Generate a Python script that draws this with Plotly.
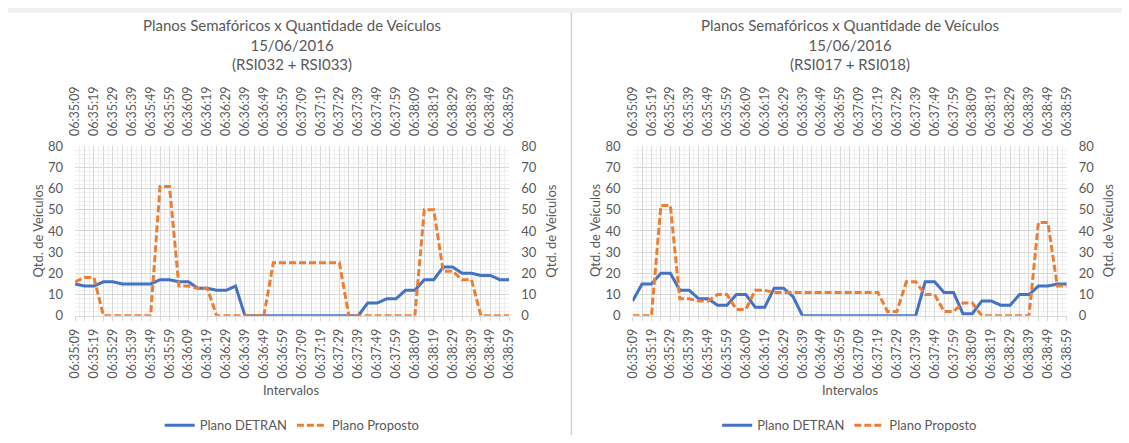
import plotly.graph_objects as go

# Time stamps (5 s intervals)
categories = [
    "06:35:09", "06:35:14", "06:35:19", "06:35:24", "06:35:29", "06:35:34",
    "06:35:39", "06:35:44", "06:35:49", "06:35:54", "06:35:59", "06:36:04",
    "06:36:09", "06:36:14", "06:36:19", "06:36:24", "06:36:29", "06:36:34",
    "06:36:39", "06:36:44", "06:36:49", "06:36:54", "06:36:59", "06:37:04",
    "06:37:09", "06:37:14", "06:37:19", "06:37:24", "06:37:29", "06:37:34",
    "06:37:39", "06:37:44", "06:37:49", "06:37:54", "06:37:59", "06:38:04",
    "06:38:09", "06:38:14", "06:38:19", "06:38:24", "06:38:29", "06:38:34",
    "06:38:39", "06:38:44", "06:38:49", "06:38:54", "06:38:59",
]

# RSI032 + RSI033
left_detran = [15, 14, 14, 16, 16, 15, 15, 15, 15, 17, 17, 16, 16, 13, 13, 12,
               12, 14, 0, 0, 0, 0, 0, 0, 0, 0, 0, 0, 0, 0, 0, 6,
               6, 8, 8, 12, 12, 17, 17, 23, 23, 20, 20, 19, 19, 17, 17]
left_proposto = [16, 18, 18, 0, 0, 0, 0, 0, 0, 61, 61, 14, 14, 13, 13, 0,
                 0, 0, 0, 0, 0, 25, 25, 25, 25, 25, 25, 25, 25, 0, 0, 0,
                 0, 0, 0, 0, 0, 50, 50, 21, 21, 17, 17, 0, 0, 0, 0]

# RSI017 + RSI018
right_detran = [7, 15, 15, 20, 20, 12, 12, 8, 8, 5, 5, 10, 10, 4, 4, 13,
                13, 9, 0, 0, 0, 0, 0, 0, 0, 0, 0, 0, 0, 0, 0, 16,
                16, 11, 11, 1, 1, 7, 7, 5, 5, 10, 10, 14, 14, 15, 15]
right_proposto = [0, 0, 0, 52, 52, 8, 8, 7, 7, 10, 10, 3, 3, 12, 12, 11,
                  11, 11, 11, 11, 11, 11, 11, 11, 11, 11, 11, 2, 2, 16, 16, 10,
                  10, 2, 2, 6, 6, 0, 0, 0, 0, 0, 0, 44, 44, 14, 14]

titles = [
    "Planos Semafóricos x Quantidade de Veículos<br>15/06/2016<br>(RSI032 + RSI033)",
    "Planos Semafóricos x Quantidade de Veículos<br>15/06/2016<br>(RSI017 + RSI018)",
]
y_title = "Qtd. de Veículos"
x_title = "Intervalos"
series_names = ["Plano DETRAN", "Plano Proposto"]

W, H = 1129, 443
FONT = "Lato, 'Open Sans', sans-serif"
TXT = "#595959"
BLUE = "#4472C4"
ORANGE = "#ED7D31"
GRID = "#d9d9d9"
MINOR = "#efefef"

idx = list(range(len(categories)))
tick_text = [c if i % 2 == 0 else "" for i, c in enumerate(categories)]


def px(x):
    return x / W


def py(y):
    return 1 - y / H


plot_top, plot_bottom = 143.3, 319.3
panels = [
    dict(x0=68, x1=508, det=left_detran, prop=left_proposto, title=titles[0],
         xb="x", xt="x3", yl="y", yr="y2", legend="legend", xt_pos=287),
    dict(x0=633, x1=1073, det=right_detran, prop=right_proposto, title=titles[1],
         xb="x2", xt="x4", yl="y3", yr="y4", legend="legend2", xt_pos=853),
]

fig = go.Figure()
layout = dict(
    width=W, height=H, margin=dict(l=0, r=0, t=0, b=0),
    paper_bgcolor="white", plot_bgcolor="white",
    font=dict(family=FONT, color=TXT, size=12),
    annotations=[], shapes=[],
)


def axname(a):
    return "xaxis" + a[1:] if a.startswith("x") else "yaxis" + a[1:]


for p in panels:
    fig.add_trace(go.Scatter(
        x=idx, y=p["det"], mode="lines", name=series_names[0],
        line=dict(color=BLUE, width=3), xaxis=p["xb"], yaxis=p["yl"],
        legend=p["legend"], hoverinfo="skip"))
    fig.add_trace(go.Scatter(
        x=idx, y=p["prop"], mode="lines", name=series_names[1],
        line=dict(color=ORANGE, width=3, dash="7px,3px"), xaxis=p["xt"], yaxis=p["yr"],
        legend=p["legend"], hoverinfo="skip"))

    dom_x = [px(p["x0"]), px(p["x1"])]
    dom_y = [py(plot_bottom), py(plot_top)]
    x_common = dict(
        range=[0, len(categories) - 1], tickmode="array", tickvals=idx,
        ticktext=tick_text, tickangle=-90, tickfont=dict(size=12.5, color=TXT),
        zeroline=False, fixedrange=True,
    )
    layout[axname(p["xb"])] = dict(
        **x_common, domain=dom_x, anchor=p["yl"], side="bottom",
        showgrid=True, gridcolor=GRID, gridwidth=1,
        minor=dict(tickmode="linear", tick0=0, dtick=0.5, showgrid=True,
                   gridcolor=MINOR, gridwidth=1),
        showline=True, linecolor=GRID, ticks="outside", ticklen=4, tickcolor=GRID,
        ticklabelstandoff=3,
    )
    layout[axname(p["xt"])] = dict(
        **x_common, overlaying=p["xb"], anchor=p["yl"], side="top",
        showgrid=False, showline=False, ticks="", matches=p["xb"],
        ticklabelstandoff=9,
    )
    y_common = dict(
        range=[0, 80], tickmode="linear", tick0=0, dtick=10,
        tickfont=dict(size=13, color=TXT), zeroline=False, fixedrange=True,
        showline=False, ticks="", ticklabelstandoff=11,
    )
    layout[axname(p["yl"])] = dict(
        **y_common, domain=dom_y, anchor=p["xb"], side="left",
        showgrid=True, gridcolor=GRID, gridwidth=1,
        minor=dict(tickmode="linear", tick0=0, dtick=2, showgrid=True,
                   gridcolor=MINOR, gridwidth=1),
    )
    layout[axname(p["yr"])] = dict(
        **y_common, overlaying=p["yl"], anchor=p["xb"], side="right",
        showgrid=False,
    )

    cx = (p["x0"] + p["x1"]) / 2
    cy = (plot_top + plot_bottom) / 2
    layout["annotations"] += [
        dict(text=p["title"], x=px(cx), y=py(6), xref="paper", yref="paper",
             xanchor="center", yanchor="top", showarrow=False, align="center",
             font=dict(size=15, color=TXT)),
        dict(text=y_title, x=px(p["x0"] - 38), y=py(cy), xref="paper", yref="paper",
             xanchor="center", yanchor="middle", showarrow=False, textangle=-90,
             font=dict(size=13, color=TXT)),
        dict(text=y_title, x=px(p["x1"] + 42), y=py(cy), xref="paper", yref="paper",
             xanchor="center", yanchor="middle", showarrow=False, textangle=-90,
             font=dict(size=13, color=TXT)),
        dict(text=x_title, x=px(p["xt_pos"]), y=py(396), xref="paper", yref="paper",
             xanchor="center", yanchor="middle", showarrow=False,
             font=dict(size=13, color=TXT)),
    ]
    layout[p["legend"]] = dict(
        orientation="h", x=px(cx), xanchor="center", y=py(433), yanchor="middle",
        font=dict(size=13, color=TXT), bgcolor="rgba(0,0,0,0)", itemwidth=30,
        traceorder="normal",
    )

# Outer frame: light strip on top and the separator between the two charts
layout["shapes"] += [
    dict(type="rect", xref="paper", yref="paper", x0=0, x1=1, y0=py(5), y1=1,
         fillcolor="#f0f0f0", line=dict(width=0), layer="below"),
    dict(type="line", xref="paper", yref="paper", x0=px(571), x1=px(571),
         y0=0, y1=py(5), line=dict(color="#d0d0d0", width=1.5)),
]

fig.update_layout(**layout)
fig.write_html("out.html")
